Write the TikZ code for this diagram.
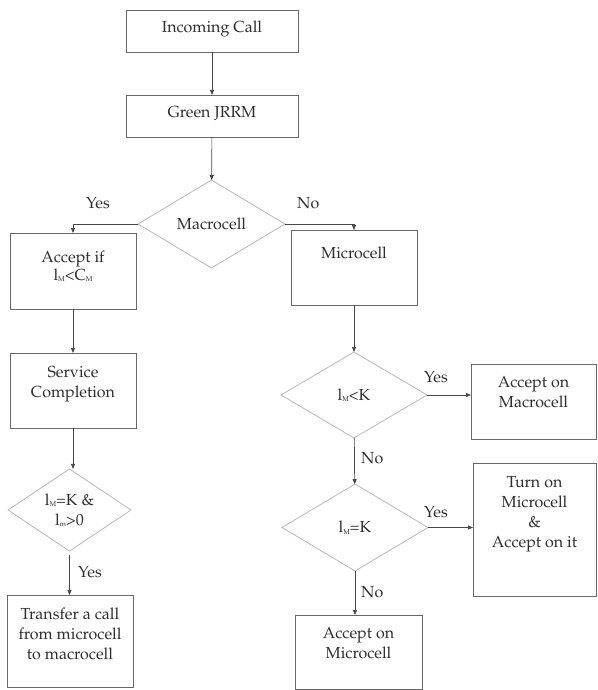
\documentclass[tikz,border=0pt]{standalone}
\usepackage[T1]{fontenc}
\usepackage{mathpazo}
\usetikzlibrary{shapes.geometric,arrows.meta}
\definecolor{boxgray}{RGB}{105,105,105}
\definecolor{diagray}{RGB}{185,185,185}
\definecolor{arrgray}{RGB}{70,70,70}
\definecolor{txtcol}{RGB}{45,45,45}
\newcommand{\bxt}[4]{\parbox[c][#2pt][t]{#1pt}{\centering\rule{0pt}{#3pt}#4\par}}
\newcommand{\tinysub}[1]{\raisebox{-1.5pt}{\fontsize{7}{7}\selectfont #1}}
\newcommand{\lM}{l\tinysub{M}}
\newcommand{\lsm}{l\tinysub{m}}
\begin{document}
\begin{tikzpicture}[x=1pt,y=-1pt,
  every node/.style={font=\fontsize{16}{20}\selectfont, text=txtcol},
  boxnode/.style={draw=boxgray, line width=0.9pt, inner sep=0pt, outer sep=0pt},
  decision/.style={diamond, draw=diagray, line width=0.8pt, inner sep=0pt, outer sep=0pt, align=center},
  flow/.style={draw=arrgray, line width=0.7pt, -{Triangle[length=5pt,width=4pt]}},
  lbl/.style={anchor=base west, inner sep=0pt}]
\useasboundingbox (0,0) rectangle (597,690);

% boxes
\node[boxnode] (inc) at (212,31) {\bxt{172}{42}{23}{Incoming Call}};
\node[boxnode] (jrrm) at (212,116) {\bxt{172}{42}{23}{Green JRRM}};
\node[decision, minimum width=147pt, minimum height=88pt] (macro) at (211.5,224) {Macrocell};
\node[boxnode] (acc) at (73,271) {\bxt{126}{76}{29}{Accept if\\[-2pt] \lM<C\tinysub{M}}};
\node[boxnode] (svc) at (73,390.5) {\bxt{126}{75}{24}{Service\\ Completion}};
\node[decision, minimum width=123pt, minimum height=74pt] (chk) at (69.5,510) {\lM=K \&\\ \lsm>0};
\node[boxnode] (trans) at (70,641) {\bxt{126}{92}{24}{Transfer a call\\ from microcell\\ to macrocell}};

\node[boxnode] (micro) at (354,267.5) {\bxt{126}{75}{28}{Microcell}};
\node[decision, minimum width=146pt, minimum height=86pt] (lmk) at (354,395) {\lM<K};
\node[boxnode] (accmac) at (533.5,401.5) {\bxt{125}{75}{23}{Accept on\\ Macrocell}};
\node[decision, minimum width=146pt, minimum height=87pt] (lmek) at (355,527.5) {\lM=K};
\node[boxnode] (turnon) at (534.5,529.5) {\bxt{123}{133}{24}{Turn on\\ Microcell\\ \&\\ Accept on it}};
\node[boxnode] (accmic) at (358.5,652) {\bxt{127}{74}{23}{Accept on\\ Microcell}};

% connectors
\draw[flow] (inc) -- (jrrm);
\draw[flow] (jrrm) -- (macro);
\draw[flow] (macro.west) -| (acc.north);
\draw[flow] (macro.east) -| (micro.north);
\draw[flow] (acc) -- (svc);
\draw[flow] (svc.south) -- (svc.south |- chk.north);
\draw[flow, shorten <=4pt] (chk.south) -- (chk.south |- trans.north);
\draw[flow] (micro) -- (lmk);
\draw[flow] (lmk.east) -- (lmk.east -| accmac.west);
\draw[flow] (lmk) -- (lmek);
\draw[flow] (lmek.east) -- (lmek.east -| turnon.west);
\draw[flow] (lmek.south) -- (lmek.south |- accmic.north);

% labels
\node[lbl] (yes1) at (86,208) {Yes};
\node[lbl] (no1) at (297,208) {No};
\node[lbl] (yes2) at (78,577) {Yes};
\node[lbl] (yes3) at (424,382) {Yes};
\node[lbl] (no2) at (361,463) {No};
\node[lbl] (yes4) at (424,517) {Yes};
\node[lbl] (no3) at (361,597) {No};
\end{tikzpicture}
\end{document}
